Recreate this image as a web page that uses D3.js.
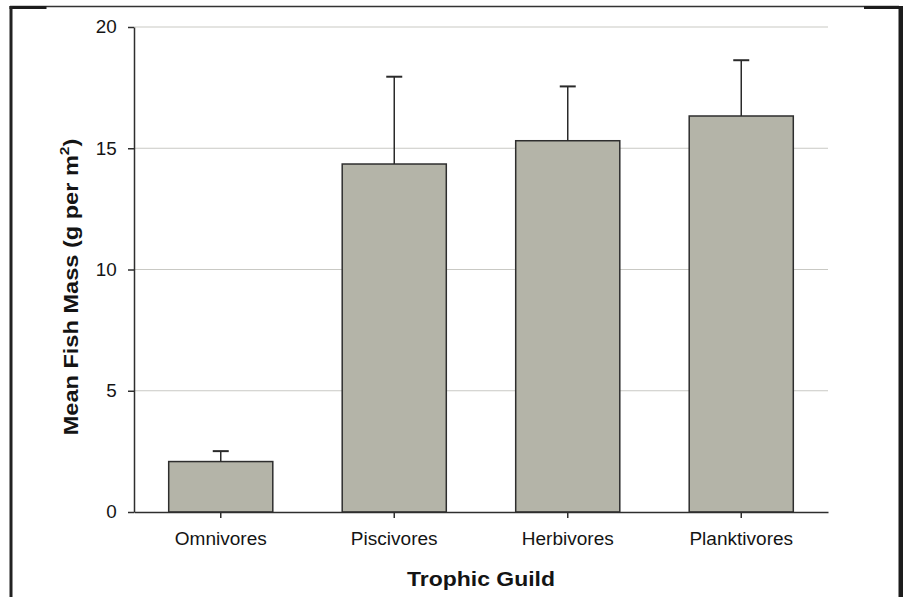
<!DOCTYPE html>
<html>
<head>
<meta charset="utf-8">
<script src="https://cdn.jsdelivr.net/npm/d3@7"></script>
<style>
  html, body { margin: 0; padding: 0; background: #fff; }
  svg { display: block; }
  text { font-family: "Liberation Sans", Arial, Helvetica, sans-serif; fill: #141414; }
</style>
</head>
<body>
<svg id="chart" width="906" height="597"></svg>
<script>
// Mean fish mass by trophic guild, with upper standard-error bars
const categories = ["Omnivores", "Piscivores", "Herbivores", "Planktivores"];
const meanMass = [2.08, 14.35, 15.31, 16.33];
const stdError = [0.43, 3.6, 2.24, 2.3];
const yTicks = [0, 5, 10, 15, 20];

const data = categories.map((c, i) => ({ guild: c, mean: meanMass[i], se: stdError[i] }));

const svg = d3.select("#chart");
const margin = { left: 134, right: 78, top: 27, bottom: 85 };
const W = 906, H = 597;
const x0 = margin.left, x1 = W - margin.right;
const y0 = H - margin.bottom, y1 = margin.top;

const x = d3.scaleBand().domain(categories).range([x0, x1]).paddingInner(0.4).paddingOuter(0.2);
const y = d3.scaleLinear().domain([0, 20]).range([y0, y1]);

// page frame
const frame = svg.append("g");
frame.append("line").attr("x1", 10).attr("x2", 899).attr("y1", 6.5).attr("y2", 6.5)
  .attr("stroke", "#333").attr("stroke-width", 1.3);
frame.append("rect").attr("x", 9.5).attr("y", 6).attr("width", 37).attr("height", 3).attr("fill", "#1c1c1c");
frame.append("rect").attr("x", 864).attr("y", 6).attr("width", 36).attr("height", 3).attr("fill", "#1c1c1c");
frame.append("rect").attr("x", 9.5).attr("y", 6).attr("width", 3).attr("height", H).attr("fill", "#222");
frame.append("rect").attr("x", 898.5).attr("y", 6).attr("width", 4.5).attr("height", H).attr("fill", "#1c1c1c");

// horizontal gridlines
svg.append("g").selectAll("line").data(yTicks.filter(t => t > 0)).join("line")
  .attr("x1", x0).attr("x2", x1)
  .attr("y1", d => y(d)).attr("y2", d => y(d))
  .attr("stroke", "#c9c9c4").attr("stroke-width", 1.2);

// bars
svg.append("g").selectAll("rect").data(data).join("rect")
  .attr("x", d => x(d.guild))
  .attr("y", d => y(d.mean))
  .attr("width", x.bandwidth())
  .attr("height", d => y(0) - y(d.mean))
  .attr("fill", "#b4b4a8")
  .attr("stroke", "#2e2e2e").attr("stroke-width", 1.5);

// error bars (upper only)
const eb = svg.append("g").selectAll("g").data(data).join("g")
  .attr("transform", d => `translate(${x(d.guild) + x.bandwidth() / 2},0)`);
eb.append("line").attr("x1", 0).attr("x2", 0)
  .attr("y1", d => y(d.mean)).attr("y2", d => y(d.mean + d.se))
  .attr("stroke", "#2a2a2a").attr("stroke-width", 1.5);
eb.append("line").attr("x1", -8).attr("x2", 8)
  .attr("y1", d => y(d.mean + d.se)).attr("y2", d => y(d.mean + d.se))
  .attr("stroke", "#2a2a2a").attr("stroke-width", 2);

// y axis
const yAxis = svg.append("g").attr("transform", `translate(${x0},0)`)
  .call(d3.axisLeft(y).tickValues(yTicks).tickSize(6).tickPadding(11).tickSizeOuter(0));
yAxis.select(".domain").attr("stroke", "#2e2e2e").attr("stroke-width", 1.5);
yAxis.selectAll(".tick line").attr("stroke", "#2e2e2e").attr("stroke-width", 1.5);
yAxis.selectAll(".tick text").attr("font-size", 18.5).attr("fill", "#141414")
  .attr("font-family", "Liberation Sans, Arial, sans-serif")
  .attr("transform", "scale(1.02,1)");

// x axis
const xAxis = svg.append("g").attr("transform", `translate(0,${y0})`)
  .call(d3.axisBottom(x).tickSize(6).tickPadding(14).tickSizeOuter(0));
xAxis.select(".domain").attr("stroke", "#2e2e2e").attr("stroke-width", 1.5);
xAxis.selectAll(".tick line").attr("stroke", "#2e2e2e").attr("stroke-width", 1.5);
xAxis.selectAll(".tick text").attr("font-size", 18.5).attr("fill", "#141414")
  .attr("font-family", "Liberation Sans, Arial, sans-serif")
  .attr("dy", "0.68em")
  .attr("transform", "scale(1.03,1)");

// axis titles
svg.append("text")
  .attr("transform", `translate(${(x0 + x1) / 2},586) scale(1.12,1)`)
  .attr("text-anchor", "middle").attr("font-size", 20.5).attr("font-weight", "bold")
  .text("Trophic Guild");

const yt = svg.append("text")
  .attr("transform", `translate(78,287) rotate(-90) scale(1.15,1)`)
  .attr("text-anchor", "middle").attr("font-size", 20.5).attr("font-weight", "bold");
yt.append("tspan").text("Mean Fish Mass (g per m");
yt.append("tspan").attr("font-size", 13.5).attr("dy", -9).text("2");
yt.append("tspan").attr("dy", 9).text(")");
</script>
</body>
</html>
